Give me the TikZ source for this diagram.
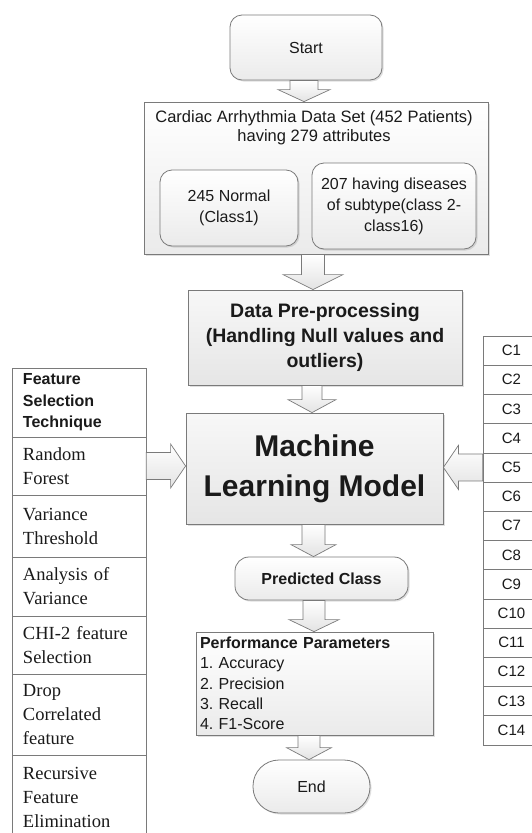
\documentclass[tikz,border=0pt]{standalone}
\usepackage{fontspec}
\setmainfont{Liberation Sans}
\newfontfamily\tmfont{Liberation Serif}
\usetikzlibrary{calc,shadows}
\definecolor{bord}{HTML}{7A7A7A}
\definecolor{txt}{HTML}{1A1A1A}
\newcommand\vbarrow[6]{\path[barrow] let \p1=(#1.south), \p2=(#2.north) in
  (#3pt-#4pt,\y1) -- (#3pt+#4pt,\y1) -- (#3pt+#4pt,\y2+#6pt) -- (#3pt+#5pt,\y2+#6pt)
  -- (#3pt,\y2) -- (#3pt-#5pt,\y2+#6pt) -- (#3pt-#4pt,\y2+#6pt) -- cycle;}
\tikzset{
  box/.style={draw=bord, line width=0.8pt, inner sep=0pt, top color=white, bottom color=gray!16, text=txt, align=center},
  shbox/.style={box, drop shadow={shadow xshift=1.5pt, shadow yshift=-1.5pt, opacity=0.25}},
  graybox/.style={shbox, top color=gray!6, bottom color=gray!20},
  rbox/.style={box, rounded corners=12pt},
  cell/.style={draw=bord, line width=0.6pt, fill=white, inner sep=0pt, text=txt},
  ftcell/.style={cell, minimum width=134pt, text width=112pt, align=left, inner xsep=11pt,
     font=\tmfont\fontsize{18.5}{24}\selectfont},
  ccell/.style={cell, minimum width=57pt, minimum height=29.2pt, font=\fontsize{15}{18}\selectfont},
  barrow/.style={draw=bord, line width=0.7pt, top color=white, bottom color=gray!22, line join=miter},
  f16/.style={font=\fontsize{16}{21}\selectfont},
}
\frenchspacing
\begin{document}
\begin{tikzpicture}[x=1pt,y=-1pt]
\useasboundingbox[fill=white] (0,0) rectangle (531,833);

% main flow
\node[rbox, shbox, rounded corners=12pt, minimum width=152pt, minimum height=65pt, f16] (start) at (306,47.5) {Start};

\node[shbox, minimum width=344pt, minimum height=152pt] (ds) at (316,178) {};
\node[text=txt, align=center, font=\fontsize{16.5}{19}\selectfont] (dstxt) at (314,127.5)
  {Cardiac Arrhythmia Data Set (452 Patients)\\having 279 attributes};
\node[rbox, shbox, minimum width=138pt, minimum height=76pt, f16] (normal) at (229,208)
  {245 Normal\\(Class1)};
\node[rbox, shbox, minimum width=164pt, minimum height=86pt, f16] (disease) at (394,206)
  {207 having diseases\\of subtype(class 2-\\class16)};

\node[graybox, minimum width=274pt, minimum height=95pt, font=\bfseries\fontsize{19.5}{25}\selectfont] (pre) at (325,337.5)
  {Data Pre-processing\\(Handling Null values and\\outliers)};

\node[graybox, minimum width=257pt, minimum height=111pt, font=\bfseries\fontsize{30}{40}\selectfont] (ml) at (314.5,468.5)
  {Machine\\Learning Model};

\node[rbox, shbox, rounded corners=14pt, minimum width=173pt, minimum height=43pt, font=\bfseries\fontsize{16}{20}\selectfont] (pred) at (321.5,578.5)
  {Predicted Class};

\node[shbox, minimum width=237pt, minimum height=103pt, text width=229pt, inner xsep=4pt, align=left,
  font=\fontsize{16}{20.3}\selectfont] (perf) at (314.5,683.5)
  {{\bfseries Performance Parameters}\\1. Accuracy\\2. Precision\\3. Recall\\4. F1-Score};

\node[rbox, shbox, rounded corners=26pt, minimum width=117pt, minimum height=53pt, f16] (end) at (311.5,786.5) {End};

% feature selection table
\node[ftcell, minimum height=69pt, font=\bfseries\fontsize{16}{21.5}\selectfont] (fsh) at (79,402.5)
  {Feature\\Selection\\Technique};
\node[ftcell, minimum height=58pt] (rf) at (79,466) {Random\\Forest};
\node[ftcell, minimum height=62pt] (vt) at (79,526) {Variance\\Threshold};
\node[ftcell, minimum height=59pt] (aov) at (79,586.5) {Analysis of\\Variance};
\node[ftcell, minimum height=58pt] (chi) at (79,645) {CHI-2 feature\\Selection};
\node[ftcell, minimum height=81pt] (drop) at (79,714.5) {Drop\\Correlated\\feature};
\node[ftcell, minimum height=84pt] (rfe) at (79,797) {Recursive\\Feature\\Elimination};

% class table
\foreach \i in {1,...,14}
  \node[ccell] (c\i) at (511.5,{350.6+29.2*(\i-1)}) {\makebox[34pt]{C\i}\hspace{23pt}};

% block arrows
\vbarrow{start}{ds}{304}{14}{26}{12}
\vbarrow{ds}{pre}{313}{11.5}{30}{15}
\vbarrow{pre}{ml}{312}{10}{24}{13}
\vbarrow{ml}{pred}{313.5}{11.5}{22.5}{12}
\vbarrow{pred}{perf}{314}{11}{25}{12}
\vbarrow{perf}{end}{309}{11}{22.5}{12}

\path[barrow] let \p1=(rf.east), \p2=(ml.west) in
  (\x1,\y1+13.5pt) -- (\x2-15pt,\y1+13.5pt) -- (\x2-15pt,\y1+22pt) -- (\x2,\y1)
  -- (\x2-15pt,\y1-22pt) -- (\x2-15pt,\y1-13.5pt) -- (\x1,\y1-13.5pt) -- cycle;
\path[barrow] let \p1=(c5.west), \p2=(ml.east) in
  (\x1,\y1+13.5pt) -- (\x2+15pt,\y1+13.5pt) -- (\x2+15pt,\y1+22pt) -- (\x2,\y1)
  -- (\x2+15pt,\y1-22pt) -- (\x2+15pt,\y1-13.5pt) -- (\x1,\y1-13.5pt) -- cycle;
\end{tikzpicture}
\end{document}
